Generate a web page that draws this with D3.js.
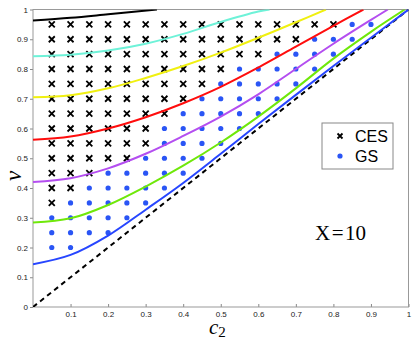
<!DOCTYPE html>
<html>
<head>
<meta charset="utf-8">
<script src="https://cdn.jsdelivr.net/npm/d3@7"></script>
<style>
  body { margin: 0; background: #fff; }
  svg { display: block; }
</style>
</head>
<body>
<div id="chart"></div>
<script>
// grid of (c2, v) test points
const c2Grid = [0.05, 0.1, 0.15, 0.2, 0.25, 0.3, 0.35, 0.4, 0.45, 0.5, 0.55, 0.6, 0.65, 0.7, 0.75, 0.8, 0.85, 0.9, 0.95];
const vGrid = [0.2, 0.25, 0.3, 0.35, 0.4, 0.45, 0.5, 0.55, 0.6, 0.65, 0.7, 0.75, 0.8, 0.85, 0.9, 0.95];
// per row: last c2 column marked CES, last c2 column marked GS (0 = none)
const cesLast = [0, 0, 0, 0.05, 0.1, 0.15, 0.25, 0.3, 0.3, 0.35, 0.4, 0.45, 0.5, 0.6, 0.7, 0.8];
const gsLast = [0.1, 0.2, 0.25, 0.3, 0.35, 0.4, 0.45, 0.5, 0.55, 0.6, 0.65, 0.7, 0.75, 0.8, 0.85, 0.9];

// boundary curves [c2, v]
const curveBlack = [[0, 0.963], [0.1, 0.972], [0.2, 0.984], [0.33, 1.0]];
const curveCyan = [[0, 0.843], [0.1, 0.848], [0.2, 0.862], [0.3, 0.885], [0.4, 0.918], [0.5, 0.958], [0.6, 0.993], [0.63, 1.0]];
const curveYellow = [[0, 0.705], [0.1, 0.712], [0.2, 0.735], [0.3, 0.77], [0.4, 0.81], [0.5, 0.855], [0.6, 0.905], [0.7, 0.957], [0.78, 1.0]];
const curveRed = [[0, 0.562], [0.1, 0.573], [0.2, 0.6], [0.3, 0.638], [0.4, 0.685], [0.5, 0.74], [0.6, 0.805], [0.7, 0.875], [0.8, 0.945], [0.88, 1.0]];
const curvePurple = [[0, 0.42], [0.1, 0.433], [0.2, 0.466], [0.3, 0.515], [0.4, 0.575], [0.5, 0.64], [0.6, 0.715], [0.7, 0.8], [0.8, 0.885], [0.9, 0.965], [0.945, 1.0]];
const curveGreen = [[0, 0.284], [0.1, 0.298], [0.2, 0.343], [0.3, 0.405], [0.4, 0.475], [0.5, 0.553], [0.6, 0.64], [0.7, 0.735], [0.8, 0.835], [0.9, 0.925], [0.99, 1.0]];
const curveBlue = [[0, 0.144], [0.1, 0.175], [0.2, 0.24], [0.3, 0.327], [0.4, 0.417], [0.5, 0.515], [0.6, 0.615], [0.7, 0.713], [0.8, 0.81], [0.9, 0.905], [1.0, 1.0]];
const diagonal = [[0, 0], [1, 1]];

const xTicks = [0.1, 0.2, 0.3, 0.4, 0.5, 0.6, 0.7, 0.8, 0.9, 1];
const yTicks = [0, 0.1, 0.2, 0.3, 0.4, 0.5, 0.6, 0.7, 0.8, 0.9, 1];

const margins = { top: 9.5, right: 6.5, bottom: 32, left: 33 };
const W = 415, H = 339;
const width = W - margins.left - margins.right;
const height = H - margins.top - margins.bottom;

const svg = d3.select("#chart")
    .append("svg")
    .attr("width", W)
    .attr("height", H);

const g = svg.append("g")
    .attr("transform", `translate(${margins.left},${margins.top})`);

const x = d3.scaleLinear().domain([0, 1]).range([0, width]);
const y = d3.scaleLinear().domain([0, 1]).range([height, 0]);

g.append("clipPath").attr("id", "clip")
    .append("rect").attr("width", width).attr("height", height);

// axes
const yAxis = g.append("g")
    .call(d3.axisLeft(y).tickValues(yTicks).tickFormat(d3.format("~g"))
        .tickSize(3).tickPadding(2));
const xAxis = g.append("g")
    .attr("transform", `translate(0,${height})`)
    .call(d3.axisBottom(x).tickValues(xTicks).tickFormat(d3.format("~g"))
        .tickSize(-3).tickPadding(4));
[xAxis, yAxis].forEach(a => {
    a.select(".domain").remove();
    a.selectAll("line").attr("stroke", "#888");
    a.selectAll("text").attr("fill", "#222")
        .style("font-family", "'Liberation Sans', Arial, sans-serif")
        .style("font-size", "8px");
});

g.append("rect")
    .attr("width", width).attr("height", height)
    .attr("fill", "none").attr("stroke", "#999").attr("stroke-width", 1);

// point data
const points = [];
vGrid.forEach((v, i) => {
    c2Grid.forEach(c => {
        if (c <= cesLast[i] + 1e-9) points.push({ c, v, type: "CES" });
        else if (c <= gsLast[i] + 1e-9) points.push({ c, v, type: "GS" });
    });
});

const plot = g.append("g").attr("clip-path", "url(#clip)");

const crossPath = s => `M${-s},${-s}L${s},${s}M${-s},${s}L${s},${-s}`;

plot.selectAll(".ces")
    .data(points.filter(d => d.type === "CES"))
    .join("path")
    .attr("class", "ces")
    .attr("transform", d => `translate(${x(d.c)},${y(d.v)})`)
    .attr("d", crossPath(3))
    .attr("stroke", "#000")
    .attr("stroke-width", 1.8)
    .attr("fill", "none");

plot.selectAll(".gs")
    .data(points.filter(d => d.type === "GS"))
    .join("circle")
    .attr("class", "gs")
    .attr("cx", d => x(d.c))
    .attr("cy", d => y(d.v))
    .attr("r", 2.6)
    .attr("fill", "#2a55f5");

// curves
const line = d3.line()
    .x(d => x(d[0]))
    .y(d => y(d[1]))
    .curve(d3.curveCatmullRom.alpha(0.5));

plot.append("path")
    .attr("d", line(diagonal))
    .attr("fill", "none")
    .attr("stroke", "#000")
    .attr("stroke-width", 2)
    .attr("stroke-dasharray", "5,4");

const curves = [
    { data: curveBlue, color: "#2746ff" },
    { data: curveGreen, color: "#6fe80a" },
    { data: curvePurple, color: "#b44ef0" },
    { data: curveRed, color: "#ff0d0d" },
    { data: curveYellow, color: "#f0f010" },
    { data: curveCyan, color: "#6ef2d8" },
    { data: curveBlack, color: "#000" }
];

plot.selectAll(".curve")
    .data(curves)
    .join("path")
    .attr("class", "curve")
    .attr("d", d => line(d.data))
    .attr("fill", "none")
    .attr("stroke", d => d.color)
    .attr("stroke-width", 2);

// legend
const legend = svg.append("g").attr("transform", "translate(322,123)");
legend.append("rect")
    .attr("width", 71).attr("height", 46)
    .attr("fill", "#fff").attr("stroke", "#888").attr("stroke-width", 1);
legend.append("path")
    .attr("transform", "translate(18,13)")
    .attr("d", crossPath(2.5))
    .attr("stroke", "#000").attr("stroke-width", 1.8);
legend.append("circle")
    .attr("cx", 18).attr("cy", 33).attr("r", 2.6).attr("fill", "#2a55f5");
legend.selectAll(".legend-text")
    .data(["CES", "GS"])
    .join("text")
    .attr("x", 33)
    .attr("y", (d, i) => 19 + i * 20)
    .style("font-family", "'Liberation Sans', Arial, sans-serif")
    .style("font-size", "16px")
    .attr("fill", "#000")
    .text(d => d);

// annotation
const ann = svg.append("text")
    .attr("x", 315).attr("y", 240)
    .style("font-family", "'Liberation Serif', 'DejaVu Serif', serif")
    .style("font-size", "21px");
ann.append("tspan").text("X");
ann.append("tspan").attr("dx", 1.5).text("=");
ann.append("tspan").attr("dx", 1.5).text("10");

// axis labels
const xl = svg.append("text")
    .attr("x", 209).attr("y", 334)
    .style("font-family", "'Liberation Serif', 'DejaVu Serif', serif")
    .style("font-size", "21px");
xl.append("tspan").style("font-style", "italic").text("c");
xl.append("tspan").attr("dy", 3).style("font-size", "15px").text("2");

svg.append("text")
    .attr("transform", "translate(21,176) rotate(-90)")
    .attr("text-anchor", "middle")
    .style("font-family", "'Liberation Serif', 'DejaVu Serif', serif")
    .style("font-style", "italic")
    .style("font-size", "23px")
    .text("v");
</script>
</body>
</html>
